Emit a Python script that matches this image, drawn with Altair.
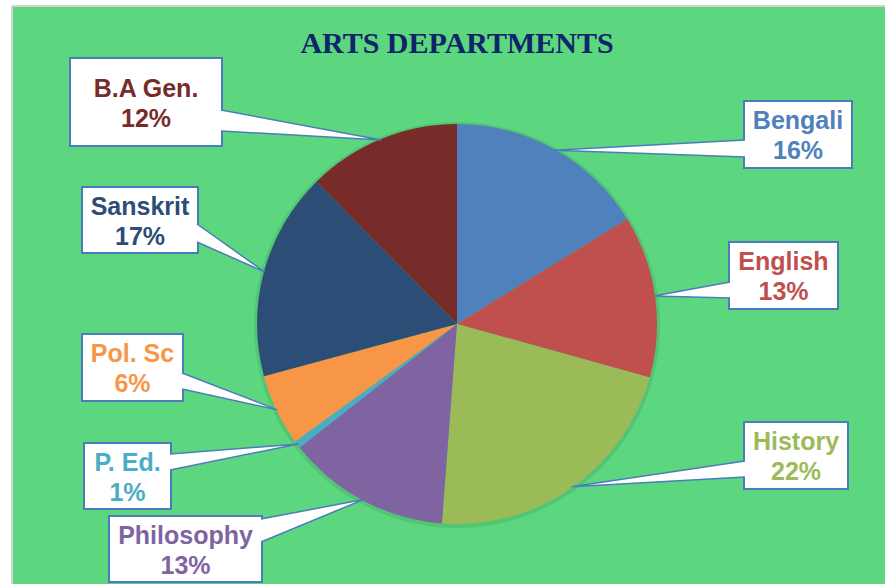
import math
import altair as alt
import pandas as pd

# ---------------- data ----------------
departments = ["Bengali", "English", "History", "Philosophy", "P. Ed.", "Pol. Sc", "Sanskrit", "B.A Gen."]
shares = [16.2, 13.1, 21.9, 13.2, 0.6, 5.8, 16.8, 12.4]
slice_colors = ["#4F81BD", "#C0504D", "#9BBB59", "#8064A2", "#4BACC6", "#F79646", "#2C4D75", "#772C2A"]
title_text = "ARTS DEPARTMENTS"

# ---------------- layout (page pixels) ----------------
OX, OY = 12, 6
W, H = 885 - OX, 584 - OY
CX, CY, R = 457, 324, 200
BORDER = "#4A7EBB"
FRAME = "#D2D2D2"
FONT = "Liberation Sans"
# callout box: x0, x1, y0, y1, side of wedge, wedge base y0, y1
BOXES = {
    "Bengali": (744, 852, 101, 168, "left", 140, 157),
    "English": (729, 838, 242, 309, "left", 282, 298),
    "History": (744, 848, 422, 489, "left", 461, 477),
    "Philosophy": (109, 262, 516, 582, "right", 519, 542),
    "P. Ed.": (84, 171, 443, 509, "right", 454, 470),
    "Pol. Sc": (82, 183, 334, 401, "right", 373, 389),
    "Sanskrit": (82, 198, 187, 253, "right", 224, 242),
    "B.A Gen.": (70, 222, 58, 146, "right", 110, 131),
}
LINE_H = 30

total = sum(shares)
pie_df = pd.DataFrame({"dept": departments, "share": shares, "idx": list(range(len(departments)))})

box_rows, wedge_rows, text_rows = [], [], []
cum = 0.0
for i, (d, v, c) in enumerate(zip(departments, shares, slice_colors)):
    mid = (cum + v / 2) / total * 2 * math.pi
    cum += v
    tx = CX + (R - 1) * math.sin(mid)
    ty = CY - (R - 1) * math.cos(mid)
    x0, x1, y0, y1, side, b0, b1 = BOXES[d]
    box_rows.append({"dept": d, "x0": x0, "x1": x1, "y0": y0, "y1": y1})
    bx = x1 - 1 if side == "right" else x0 + 1
    for k, (px, py) in enumerate([(bx, b0), (tx, ty), (bx, b1)]):
        wedge_rows.append({"dept": d, "k": k, "px": px, "py": py})
    pct = round(v / total * 100)
    text_rows.append({
        "dept": d,
        "label": f"{d}\n{pct}%",
        "lx": (x0 + x1) / 2,
        "ly": (y0 + y1) / 2 - 5.5,
        "tcolor": c,
    })

box_df = pd.DataFrame(box_rows)
wedge_df = pd.DataFrame(wedge_rows)
text_df = pd.DataFrame(text_rows)

xs = alt.Scale(domain=[OX, OX + W], nice=False, zero=False)
ys = alt.Scale(domain=[OY, OY + H], nice=False, zero=False, reverse=True)
one = pd.DataFrame({"a": [0]})

frame_left = alt.Chart(one).mark_rule(color=FRAME, strokeWidth=2).encode(
    x=alt.value(0), y=alt.value(0), y2=alt.value(H))
frame_top = alt.Chart(one).mark_rule(color=FRAME, strokeWidth=2).encode(
    x=alt.value(0), x2=alt.value(W), y=alt.value(0))

shadow = alt.Chart(one).mark_arc(
    radius=R + 3, theta=0, theta2=2 * math.pi, fill="#2E8A4A", opacity=0.22
).encode(x=alt.value(CX - OX), y=alt.value(CY - OY + 1))

pie = alt.Chart(pie_df).mark_arc(radius=R).encode(
    theta=alt.Theta("share:Q", stack=True),
    color=alt.Color("dept:N", scale=alt.Scale(domain=departments, range=slice_colors), legend=None),
    order=alt.Order("idx:Q"),
    x=alt.value(CX - OX),
    y=alt.value(CY - OY),
)

boxes = alt.Chart(box_df).mark_rect(fill="white", stroke=BORDER, strokeWidth=2).encode(
    x=alt.X("x0:Q", scale=xs, axis=None),
    x2="x1:Q",
    y=alt.Y("y0:Q", scale=ys, axis=None),
    y2="y1:Q",
)

wedges = alt.Chart(wedge_df).mark_line(fill="white", stroke=BORDER, strokeWidth=1.5, strokeJoin="miter").encode(
    x=alt.X("px:Q", scale=xs, axis=None),
    y=alt.Y("py:Q", scale=ys, axis=None),
    order="k:Q",
    detail="dept:N",
)

texts = alt.Chart(text_df).mark_text(
    font=FONT, fontSize=25, fontWeight="bold", align="center", baseline="alphabetic",
    lineBreak="\n", lineHeight=LINE_H,
).encode(
    x=alt.X("lx:Q", scale=xs, axis=None),
    y=alt.Y("ly:Q", scale=ys, axis=None),
    text="label:N",
    fill=alt.Fill("tcolor:N", scale=None),
)

title = alt.Chart(one).mark_text(
    text=title_text, font="Liberation Serif", fontSize=30, fontWeight="bold",
    color="#0F2469", align="center", baseline="alphabetic",
).encode(x=alt.value(457 - OX), y=alt.value(53 - OY))

chart = alt.layer(frame_left, frame_top, shadow, pie, boxes, wedges, texts, title).properties(
    width=W, height=H,
    padding={"left": OX, "top": OY, "right": 0, "bottom": 0},
    autosize=alt.AutoSizeParams(type="none"),
    background="white",
).resolve_scale(color="independent", fill="independent").configure_view(
    fill="#5CD67F", stroke=None
)

chart.save("out.html", embed_options={"renderer": "svg", "actions": False})
